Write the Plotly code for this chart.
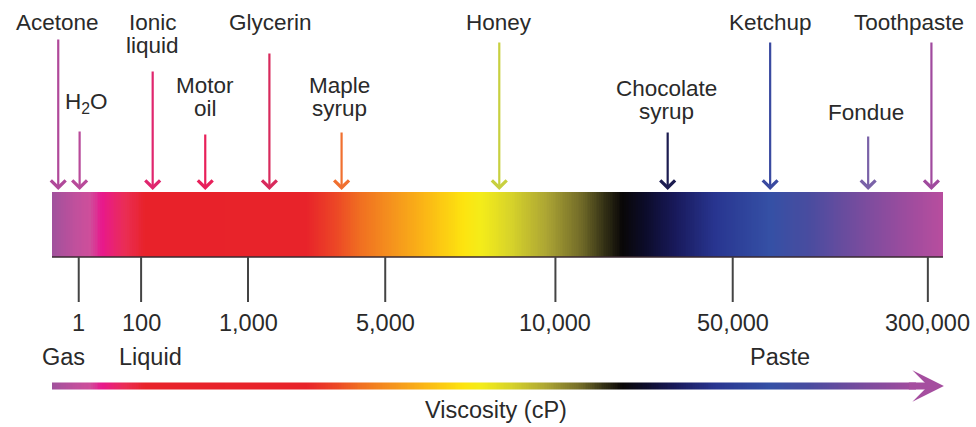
import numpy as np
import plotly.graph_objects as go

# positions along the schematic viscosity bar (0 = left end, 100 = right end)
substances = ["Acetone", "H<sub>2</sub>O", "Ionic\nliquid", "Motor\noil", "Glycerin",
              "Maple\nsyrup", "Honey", "Chocolate\nsyrup", "Ketchup", "Fondue", "Toothpaste"]
substance_pos = [0.7, 3.1, 11.3, 17.2, 24.4, 32.5, 50.2, 69.1, 80.6, 91.6, 98.7]

tick_labels = ["1", "100", "1,000", "5,000", "10,000", "50,000", "300,000"]
tick_pos = [3.0, 10.0, 22.0, 37.4, 56.5, 76.4, 98.3]

state_labels = ["Gas", "Liquid", "Paste"]
state_pos = [1.3, 11.0, 81.7]

# styling of the pointer arrows
arrow_colors = ["#b0499a", "#b84a9a", "#e0266e", "#e8205a", "#d82a5c", "#f07030",
                "#c8d040", "#1c1c50", "#3a4aa0", "#7a62a8", "#a04a9e"]
arrow_top = [38, 130, 70, 133, 52, 131, 41, 131, 41, 135, 41]
label_y = [22, 103, 22, 85, 22, 85, 22, 88, 22, 112, 22]
label_shift = [-1, 7, 0, 0, 1, -2, 0, -1, 0, -2, -22]

colorscale = [
    [0.0, "#a0519c"], [0.026, "#c0509c"], [0.043, "#cf4e9b"], [0.056, "#e8188c"],
    [0.082, "#ea2d55"], [0.104, "#e8222a"], [0.285, "#e8232a"], [0.318, "#ec4626"],
    [0.345, "#f06e21"], [0.382, "#f5931d"], [0.422, "#fbba15"], [0.462, "#fde40f"],
    [0.482, "#f4ec1a"], [0.516, "#d6d22a"], [0.555, "#aca534"], [0.594, "#716b28"],
    [0.62, "#333015"], [0.64, "#090707"], [0.666, "#0c0c2a"], [0.699, "#18195a"],
    [0.744, "#283590"], [0.806, "#3550a5"], [0.851, "#4a4c9f"], [0.907, "#774c9e"],
    [0.957, "#9b4c9e"], [1.0, "#b84d9e"],
]

FONT = "Liberation Sans, Arial, Helvetica, sans-serif"
TXT = "#2a2a2a"

fig = go.Figure()

# gradient bar
edges = np.linspace(0, 100, 501)
centers = (edges[:-1] + edges[1:]) / 2
fig.add_trace(go.Heatmap(
    x=edges, y=[192, 257], z=[centers],
    colorscale=colorscale, zmin=0, zmax=100,
    showscale=False, hoverinfo="skip",
))

# gradient shaft of the bottom arrow
shaft_edges = np.linspace(0, 97, 486)
shaft_centers = (shaft_edges[:-1] + shaft_edges[1:]) / 2
fig.add_trace(go.Heatmap(
    x=shaft_edges, y=[382.5, 389.5], z=[shaft_centers],
    colorscale=colorscale, zmin=0, zmax=100,
    showscale=False, hoverinfo="skip",
))

# dark edge under the bar
fig.add_shape(type="line", x0=0, x1=100, y0=257, y1=257,
              line=dict(color="#3a2a30", width=1.5))

# tick marks and labels
for lab, p in zip(tick_labels, tick_pos):
    fig.add_shape(type="line", x0=p, x1=p, y0=257, y1=302,
                  line=dict(color="#444444", width=2))
    fig.add_annotation(x=p, y=323, text=lab, showarrow=False,
                       font=dict(size=23.5, color=TXT, family=FONT))

for lab, p in zip(state_labels, state_pos):
    fig.add_annotation(x=p, y=357, text=lab, showarrow=False,
                       font=dict(size=23.5, color=TXT, family=FONT))

# bottom arrowhead
fig.add_annotation(x=100.1, y=386, ax=96, ay=386, axref="x", ayref="y",
                   text="", showarrow=True, arrowhead=3, arrowsize=0.75,
                   arrowwidth=7, arrowcolor="#a54e9f")

fig.add_annotation(x=49.8, y=410, text="Viscosity (cP)", showarrow=False,
                   font=dict(size=23.5, color=TXT, family=FONT))

# substance pointers
for name, p, c, top, ly, sh in zip(substances, substance_pos, arrow_colors,
                                    arrow_top, label_y, label_shift):
    fig.add_annotation(x=p, y=190, ax=p, ay=top, axref="x", ayref="y",
                       text="", showarrow=True, arrowhead=4, arrowsize=1.3,
                       arrowwidth=2.2, arrowcolor=c, standoff=0)
    for i, line in enumerate(name.split("\n")):
        fig.add_annotation(x=p, y=ly + i * 23, text=line, showarrow=False,
                           xshift=sh, font=dict(size=22.5, color=TXT, family=FONT))

fig.update_layout(
    width=976, height=427,
    margin=dict(l=52, r=33, t=0, b=0),
    paper_bgcolor="white", plot_bgcolor="white",
    showlegend=False,
    xaxis=dict(range=[0, 100], visible=False, fixedrange=True),
    yaxis=dict(range=[427, 0], visible=False, fixedrange=True),
)

fig.write_html("out.html", config={"displayModeBar": False},
               post_script="document.body.style.margin='0';")
